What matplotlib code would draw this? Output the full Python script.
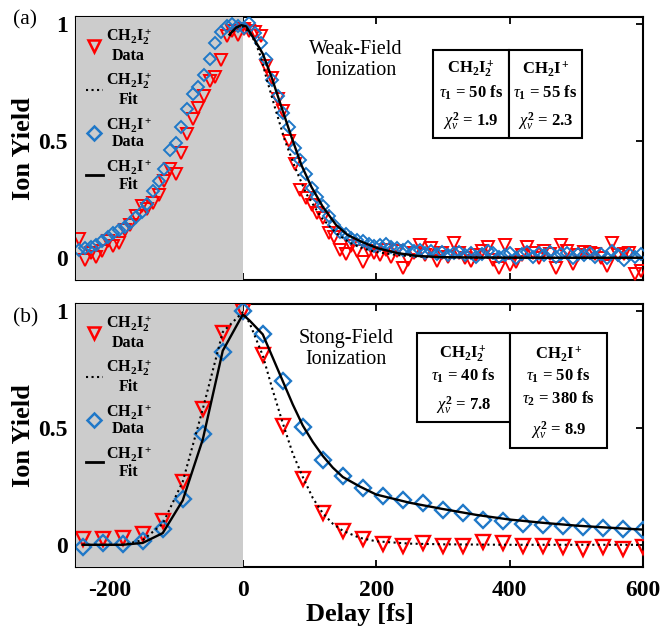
import numpy as np
import matplotlib
matplotlib.use("Agg")
import matplotlib.pyplot as plt
from matplotlib.patches import Rectangle
from matplotlib.lines import Line2D

plt.rcParams['font.family'] = ['Liberation Serif', 'DejaVu Serif']
plt.rcParams['mathtext.fontset'] = 'custom'
plt.rcParams['mathtext.rm'] = 'Liberation Serif'
plt.rcParams['mathtext.bf'] = 'Liberation Serif:bold'
plt.rcParams['mathtext.it'] = 'Liberation Serif:italic'
plt.rcParams['axes.unicode_minus'] = False

# ---------------- data: panel (a) weak field ----------------
delay_a = np.arange(-245, 600, 8.5)
ch2i_a = [0.033, 0.04, 0.047, 0.054, 0.07, 0.09, 0.104, 0.118, 0.13, 0.15,
          0.175, 0.195, 0.232, 0.285, 0.33, 0.38, 0.46, 0.49, 0.56, 0.635,
          0.70, 0.73, 0.78, 0.85, 0.92, 0.965, 0.99, 1.0, 0.99, 0.985,
          1.005, 0.96, 0.92, 0.85, 0.76, 0.69, 0.62, 0.56, 0.47, 0.42,
          0.36, 0.30, 0.26, 0.22, 0.18, 0.14, 0.11, 0.10, 0.085, 0.075,
          0.07, 0.06, 0.05, 0.055, 0.06, 0.045, 0.04, 0.035, 0.045, 0.03,
          0.035, 0.02, 0.03, 0.015, 0.025, 0.01, 0.02, 0.025, 0.01, 0.02,
          0.005, 0.015, 0.03, 0.02, 0.005, 0.01, 0.02, 0.0, 0.015, 0.025,
          0.005, 0.02, 0.01, 0.025, 0.005, 0.015, 0.02, 0.0, 0.015, 0.01,
          0.02, 0.005, 0.015, 0.0, 0.03, 0.01, -0.01, 0.015, 0.005, 0.015]
ch2i2_a = [0.08, -0.01, 0.02, 0.005, 0.03, 0.07, 0.05, 0.065, 0.12, 0.14,
           0.18, 0.22, 0.21, 0.235, 0.27, 0.33, 0.38, 0.36, 0.45, 0.53,
           0.595, 0.64, 0.69, 0.755, 0.775, 0.845, 0.95, 0.97, 0.955, 0.98,
           0.97, 0.965, 0.95, 0.82, 0.77, 0.68, 0.63, 0.50, 0.40, 0.29,
           0.255, 0.225, 0.19, 0.17, 0.105, 0.09, 0.035, 0.015, 0.05, 0.03,
           -0.02, 0.03, 0.02, 0.01, 0.035, 0.005, 0.03, -0.045, -0.01, 0.02,
           0.055, 0.01, 0.04, -0.015, 0.02, 0.005, 0.065, 0.02, 0.0, -0.015,
           0.01, 0.03, 0.045, -0.01, -0.045, 0.055, -0.03, -0.02, 0.01, 0.045,
           0.02, 0.0, 0.03, 0.015, -0.045, 0.055, 0.03, -0.025, 0.01, 0.025,
           0.02, 0.015, 0.0, -0.035, 0.065, 0.01, 0.015, 0.02, -0.07, -0.055]
fit_ch2i_a_x = [-20, -10, -2, 5, 15, 30, 43, 58, 73, 88, 103, 120, 140, 157,
                177, 202, 232, 262, 296, 350, 450, 600]
fit_ch2i_a_y = [0.955, 0.985, 0.995, 0.99, 0.945, 0.873, 0.774, 0.645, 0.517,
                0.396, 0.303, 0.218, 0.14, 0.098, 0.07, 0.041, 0.02, 0.008,
                0.003, 0.001, 0.0, 0.0]
fit_ch2i2_a_x = [-20, -10, 0, 10, 20, 28, 35, 48, 63, 78, 95, 117, 140, 160,
                 180, 200, 230, 260, 300, 400, 600]
fit_ch2i2_a_y = [0.95, 0.985, 0.99, 0.965, 0.915, 0.85, 0.774, 0.645, 0.503,
                 0.389, 0.275, 0.175, 0.105, 0.065, 0.04, 0.025, 0.012, 0.005,
                 0.002, 0.0, 0.0]

# ---------------- data: panel (b) strong field ----------------
delay_b = [-240, -210, -180, -150, -120, -90, -60, -30, 0, 30, 60, 90, 120,
           150, 180, 210, 240, 270, 300, 330, 360, 390, 420, 450, 480, 510,
           540, 570, 600]
ch2i2_b = [0.024, 0.025, 0.03, 0.045, 0.10, 0.27, 0.58, 0.907, 1.0, 0.81,
           0.51, 0.28, 0.134, 0.06, 0.024, 0.003, -0.004, 0.007, -0.004,
           -0.004, 0.01, 0.007, -0.004, -0.004, -0.011, -0.018, -0.011,
           -0.018, -0.011]
ch2i_b = [-0.011, 0.007, 0.003, 0.017, 0.067, 0.195, 0.473, 0.825, 1.0, 0.90,
          0.70, 0.504, 0.362, 0.295, 0.242, 0.209, 0.192, 0.178, 0.148, 0.134,
          0.105, 0.10, 0.088, 0.085, 0.081, 0.074, 0.071, 0.067, 0.063]
fit_ch2i_b_x = [-240, -210, -180, -150, -120, -90, -60, -30, 0, 10, 20, 30,
                45, 60, 75, 90, 105, 120, 135, 150, 175, 200, 250, 300, 350,
                400, 450, 500, 550, 600]
fit_ch2i_b_y = [0.0, 0.0, 0.0, 0.008, 0.05, 0.19, 0.45, 0.83, 0.985, 0.96,
                0.93, 0.90, 0.80, 0.70, 0.60, 0.51, 0.44, 0.38, 0.33, 0.29,
                0.25, 0.215, 0.18, 0.153, 0.128, 0.108, 0.094, 0.082, 0.073,
                0.065]
fit_ch2i2_b_x = [-240, -210, -180, -150, -120, -90, -60, -30, 0, 10, 20, 30,
                 45, 60, 75, 90, 105, 120, 135, 150, 175, 200, 250, 300, 400,
                 600]
fit_ch2i2_b_y = [0.0, 0.0, 0.0, 0.02, 0.09, 0.27, 0.58, 0.91, 0.995, 0.95,
                 0.88, 0.81, 0.66, 0.52, 0.39, 0.29, 0.20, 0.135, 0.09, 0.06,
                 0.03, 0.015, 0.005, 0.002, 0.0, 0.0]

xticks = [-200, 0, 200, 400, 600]
yticks = [0, 0.5, 1]
ytick_labels = ['0', '0.5', '1']

table_a = [[r'$\mathbf{CH_2I_2^+}$', r'$\tau_\mathbf{1}$ = 50 fs', r'$\chi^\mathbf{2}_\nu$ = 1.9'],
           [r'$\mathbf{CH_2I^+}$', r'$\tau_\mathbf{1}$ = 55 fs', r'$\chi^\mathbf{2}_\nu$ = 2.3']]
table_b = [[r'$\mathbf{CH_2I_2^+}$', r'$\tau_\mathbf{1}$ = 40 fs', r'$\chi^\mathbf{2}_\nu$ = 7.8'],
           [r'$\mathbf{CH_2I^+}$', r'$\tau_\mathbf{1}$ = 50 fs', r'$\tau_\mathbf{2}$ = 380 fs',
            r'$\chi^\mathbf{2}_\nu$ = 8.9']]

RED = '#ff0000'
BLUE = '#1f78c8'
W, H = 663, 633

fig = plt.figure(figsize=(W / 100, H / 100), dpi=100)


def px_axes(l, r, t, b):
    return fig.add_axes([l / W, 1 - b / H, (r - l) / W, (b - t) / H])


ax_a = px_axes(76, 643, 17, 280)
ax_b = px_axes(76, 643, 304, 567)


def style(ax, show_xlabels):
    ax.set_xlim(-250, 600)
    ax.set_ylim(-0.095, 1.03)
    ax.axvspan(-250, 0, color='#cccccc', zorder=2.6, lw=0)
    ax.set_xticks(xticks)
    ax.set_yticks(yticks)
    ax.set_yticklabels(ytick_labels)
    ax.tick_params(direction='in', top=True, right=True, length=5, width=1.3,
                   labelsize=17, pad=6)
    ax.tick_params(axis='x', pad=9)
    for lab in ax.get_xticklabels() + ax.get_yticklabels():
        lab.set_fontweight('bold')
    if not show_xlabels:
        ax.set_xticklabels([])
    for s in ax.spines.values():
        s.set_linewidth(1.5)
    ax.set_ylabel('Ion Yield', fontsize=19, fontweight='bold', labelpad=2)


def legend(ax, ms):
    handles = [
        Line2D([], [], ls='none', marker='v', mfc='none', mec=RED, mew=1.8, ms=ms),
        Line2D([], [], ls=':', color='black', lw=1.5),
        Line2D([], [], ls='none', marker='D', mfc='none', mec=BLUE, mew=1.8, ms=ms - 1.5),
        Line2D([], [], ls='-', color='black', lw=2.0),
    ]
    labels = [r'$\mathbf{CH_2I_2^+}$' + '\nData', r'$\mathbf{CH_2I_2^+}$' + '\nFit',
              r'$\mathbf{CH_2I^+}$' + '\nData', r'$\mathbf{CH_2I^+}$' + '\nFit']
    leg = ax.legend(handles, labels, loc='upper left', frameon=False,
                    prop={'weight': 'bold', 'size': 11.5}, handlelength=1.1,
                    handletextpad=0.15, labelspacing=0.42, borderaxespad=0.2)
    leg.set_zorder(5)
    for t in leg.get_texts():
        t.set_multialignment('center')
        t.set_linespacing(1.05)


def table(ax, cells, boxes, rows):
    for (x0, x1, y0, y1) in boxes:
        ax.add_patch(Rectangle((x0, y0), x1 - x0, y1 - y0, transform=ax.transAxes,
                               facecolor='white', edgecolor='black', lw=1.5, zorder=4))
    for col, (xc, ys) in zip(cells, rows):
        for txt, y in zip(col, ys):
            ax.text(xc, y, txt, transform=ax.transAxes, ha='center', va='center',
                    fontsize=12, fontweight='bold', zorder=5)


# ---- panel (a) ----
style(ax_a, False)
ax_a.plot(delay_a, ch2i2_a, ls='none', marker='v', mfc='none', mec=RED, mew=1.4, ms=8, zorder=3)
ax_a.plot(delay_a, ch2i_a, ls='none', marker='D', mfc='none', mec=BLUE, mew=1.4, ms=6.2, zorder=3)
ax_a.plot(fit_ch2i2_a_x, fit_ch2i2_a_y, ls=':', color='black', lw=1.5, zorder=3.5)
ax_a.plot(fit_ch2i_a_x, fit_ch2i_a_y, ls='-', color='black', lw=1.7, zorder=3.5)
legend(ax_a, 9)
ax_a.text(0.494, 0.835, 'Weak-Field\nIonization', transform=ax_a.transAxes, ha='center',
          va='center', fontsize=14.5, linespacing=1.15)
table(ax_a, [table_a[0], table_a[1]],
      [(0.630, 0.764, 0.540, 0.875), (0.764, 0.892, 0.540, 0.875)],
      [(0.697, [0.805, 0.712, 0.605]), (0.828, [0.805, 0.712, 0.605])])
fig.text(25 / W, 1 - 20 / H, '(a)', fontsize=15.5, ha='center', va='center')

# ---- panel (b) ----
style(ax_b, True)
ax_b.plot(delay_b, ch2i2_b, ls='none', marker='v', mfc='none', mec=RED, mew=1.7, ms=10, zorder=3)
ax_b.plot(delay_b, ch2i_b, ls='none', marker='D', mfc='none', mec=BLUE, mew=1.7, ms=8, zorder=3)
ax_b.plot(fit_ch2i2_b_x, fit_ch2i2_b_y, ls=':', color='black', lw=1.5, zorder=3.5)
ax_b.plot(fit_ch2i_b_x, fit_ch2i_b_y, ls='-', color='black', lw=1.7, zorder=3.5)
legend(ax_b, 9)
ax_b.text(0.476, 0.829, 'Stong-Field\nIonization', transform=ax_b.transAxes, ha='center',
          va='center', fontsize=14.5, linespacing=1.15)
table(ax_b, [table_b[0], table_b[1]],
      [(0.601, 0.765, 0.551, 0.890), (0.765, 0.937, 0.452, 0.890)],
      [(0.683, [0.810, 0.728, 0.614]), (0.851, [0.810, 0.728, 0.638, 0.521])])
ax_b.set_xlabel('Delay [fs]', fontsize=19, fontweight='bold', labelpad=2)
fig.text(26 / W, 1 - 318 / H, '(b)', fontsize=15.5, ha='center', va='center')

fig.savefig('out.png', dpi=100)
